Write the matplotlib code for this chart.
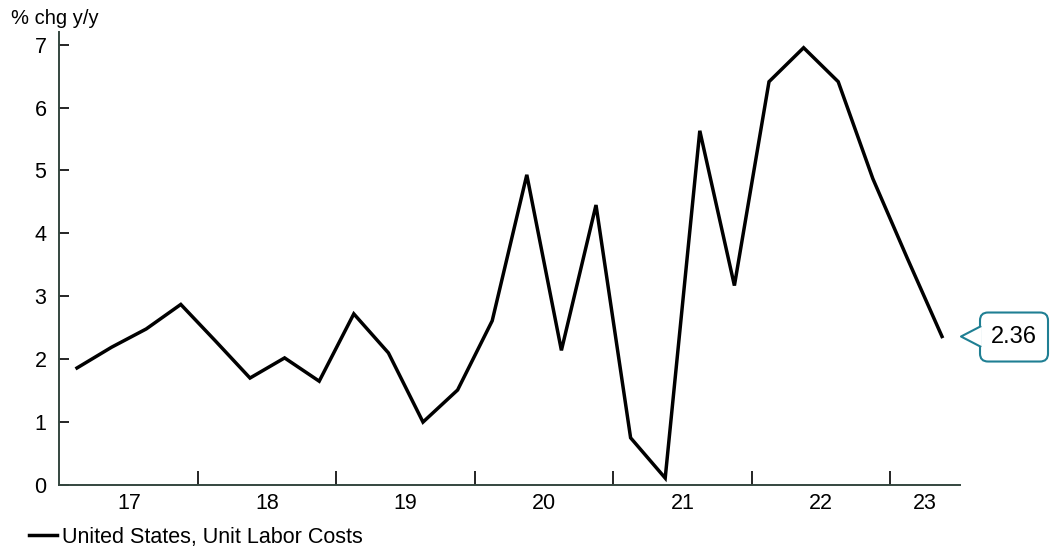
import matplotlib
matplotlib.use("Agg")
import matplotlib.pyplot as plt
import matplotlib.transforms as mtransforms
from matplotlib.patches import FancyBboxPatch, Polygon
from matplotlib.lines import Line2D

plt.rcParams['font.family'] = ['Liberation Sans', 'DejaVu Sans']

# Quarterly unit labor costs, % change y/y, 2017Q1 .. 2023Q2
quarters = ["2017Q1", "2017Q2", "2017Q3", "2017Q4",
            "2018Q1", "2018Q2", "2018Q3", "2018Q4",
            "2019Q1", "2019Q2", "2019Q3", "2019Q4",
            "2020Q1", "2020Q2", "2020Q3", "2020Q4",
            "2021Q1", "2021Q2", "2021Q3", "2021Q4",
            "2022Q1", "2022Q2", "2022Q3", "2022Q4",
            "2023Q1", "2023Q2"]
ulc = [1.86, 2.19, 2.48, 2.87,
       2.29, 1.70, 2.02, 1.65,
       2.72, 2.10, 1.00, 1.51,
       2.61, 4.93, 2.14, 4.45,
       0.75, 0.11, 5.63, 3.17,
       6.41, 6.95, 6.41, 4.87,
       3.60, 2.36]
year_labels = ["17", "18", "19", "20", "21", "22", "23"]
series_name = "United States, Unit Labor Costs"
units_label = "% chg y/y"


def quarter_pos(q):
    year, qn = int(q[:4]), int(q[-1])
    return year + (qn - 0.5) / 4.0


xs = [quarter_pos(q) for q in quarters]
x_min, x_max = 2016.995, 2023.505
y_min, y_max = 0.0, 7.2

spine_col = "#34463f"
teal = "#1f7f93"

fig = plt.figure(figsize=(10.53, 5.5), dpi=100)
ax = fig.add_axes([59 / 1053, 1 - 485 / 550, (960 - 59) / 1053, (485 - 32) / 550])

line, = ax.plot(xs, ulc, color="black", lw=2.5, solid_joinstyle="miter",
                label=series_name, zorder=3)

ax.set_xlim(x_min, x_max)
ax.set_ylim(y_min, y_max)

for side in ("top", "right"):
    ax.spines[side].set_visible(False)
for side in ("left", "bottom"):
    ax.spines[side].set_color(spine_col)
    ax.spines[side].set_linewidth(1.4)

# y axis
ax.set_yticks(range(0, 8))
ax.tick_params(axis="y", direction="in", length=7, width=1.2, color="black",
               labelsize=15.5, pad=9)

# x axis: ticks at year boundaries, labels centred on each visible year
first_year = 2017
bounds = [first_year + i for i in range(1, len(year_labels))]
ax.set_xticks(bounds)
ax.set_xticklabels([])
ax.tick_params(axis="x", which="major", direction="in", length=10, width=1.2,
               color="black")
centres = []
for i in range(len(year_labels)):
    lo = max(first_year + i, x_min)
    hi = min(first_year + i + 1, x_max)
    centres.append((lo + hi) / 2)
ax.set_xticks(centres, minor=True)
ax.set_xticklabels(year_labels, minor=True)
ax.tick_params(axis="x", which="minor", length=0, labelsize=15.5, pad=6)

# units label
fig.text(11 / 1053, 1 - 19 / 550, units_label, fontsize=14.5, va="center",
         ha="left")

# callout for the latest value
last_x, last_y = xs[-1], ulc[-1]
anchor = mtransforms.ScaledTranslation(last_x, last_y, ax.transData)
box = FancyBboxPatch((38, -25), 68, 49,
                     boxstyle="round,pad=0,rounding_size=8",
                     transform=anchor, facecolor="white", edgecolor=teal,
                     lw=1.5, clip_on=False, zorder=5)
ax.add_patch(box)
cover = Polygon([(19, 0), (39, 10), (39, -10)], closed=True, transform=anchor,
                facecolor="white", edgecolor="none", clip_on=False, zorder=6)
ax.add_patch(cover)
ax.add_line(Line2D([38.3, 19, 38.3], [10, 0, -10], transform=anchor,
                   color=teal, lw=1.5, clip_on=False, zorder=7))
ax.text(72, 0, f"{last_y:.2f}", transform=anchor, ha="center", va="center",
        fontsize=17, zorder=8, clip_on=False)

# legend
fig.legend(handles=[line], loc="center left",
           bbox_to_anchor=(29 / 1053, 1 - 537 / 550), frameon=False,
           fontsize=15.5, handlelength=1.3, handletextpad=0.25,
           borderaxespad=0, borderpad=0)

fig.savefig("out.png", dpi=100)
